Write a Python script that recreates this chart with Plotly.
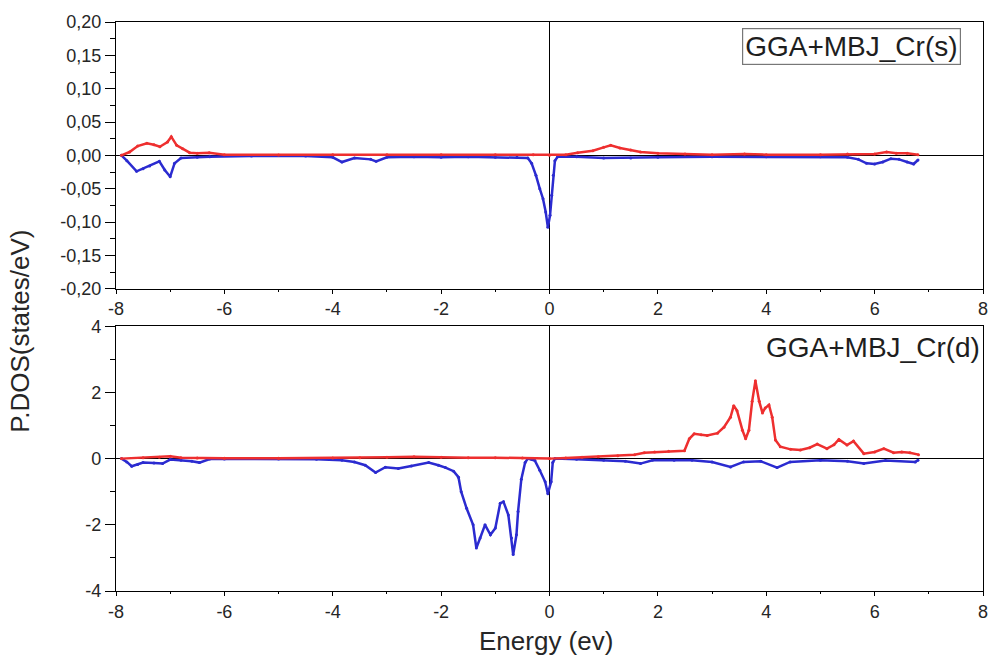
import plotly.graph_objects as go
from plotly.subplots import make_subplots

# ---------------- data ----------------
# Top panel: Cr(s)
s_up_E = [-7.9, -7.75, -7.6, -7.43, -7.3, -7.19, -7.05, -6.98, -6.88, -6.77, -6.64, -6.5, -6.28, -6.0,
          -5.0, -4.0, -3.0, -2.0, -1.0, -0.3, 0.0, 0.3, 0.52, 0.8, 1.0, 1.13, 1.3, 1.5, 1.68, 2.0, 2.5,
          3.0, 3.6, 4.0, 5.0, 5.5, 6.0, 6.22, 6.4, 6.6, 6.8]
s_up_V = [0.0, 0.005, 0.014, 0.018, 0.016, 0.013, 0.02, 0.028, 0.015, 0.01, 0.004, 0.003, 0.004, 0.001,
          0.0005, 0.001, 0.001, 0.001, 0.001, 0.001, 0.0, 0.001, 0.004, 0.007, 0.012, 0.015, 0.011, 0.008,
          0.005, 0.003, 0.002, 0.001, 0.002, 0.001, 0.001, 0.002, 0.002, 0.005, 0.003, 0.003, 0.001]

s_dn_E = [-7.9, -7.8, -7.62, -7.5, -7.38, -7.2, -7.1, -7.0, -6.92, -6.8, -6.5, -6.27, -5.5, -4.5, -4.0,
          -3.83, -3.6, -3.3, -3.2, -3.0, -2.5, -2.0, -1.5, -1.0, -0.6, -0.4, -0.33, -0.25, -0.18, -0.12,
          -0.07, -0.03, 0.01, 0.04, 0.07, 0.1, 0.15, 0.5, 1.0, 1.5, 2.0, 3.0, 4.0, 5.0, 5.5, 5.7, 5.85,
          6.0, 6.15, 6.3, 6.45, 6.6, 6.72, 6.8]
s_dn_V = [0.0, -0.008, -0.024, -0.02, -0.016, -0.009, -0.022, -0.032, -0.012, -0.004, -0.003, -0.002,
          -0.001, -0.001, -0.003, -0.01, -0.004, -0.006, -0.009, -0.003, -0.002, -0.003, -0.002, -0.003,
          -0.003, -0.004, -0.012, -0.03, -0.05, -0.065, -0.085, -0.108, -0.09, -0.06, -0.03, -0.008,
          -0.002, -0.002, -0.004, -0.004, -0.003, -0.002, -0.002, -0.002, -0.003, -0.006, -0.012, -0.013,
          -0.01, -0.005, -0.006, -0.01, -0.013, -0.007]

# Bottom panel: Cr(d)
d_up_E = [-7.9, -7.5, -7.2, -7.0, -6.8, -6.5, -6.0, -5.0, -4.0, -3.5, -3.0, -2.5, -2.0, -1.5, -1.0, -0.5,
          0.0, 0.3, 0.6, 0.9, 1.26, 1.57, 1.75, 1.94, 2.2, 2.49, 2.58, 2.67, 2.8, 2.91, 3.1, 3.22, 3.34,
          3.4, 3.46, 3.56, 3.62, 3.68, 3.74, 3.8, 3.87, 3.93, 3.98, 4.05, 4.11, 4.17, 4.26, 4.45, 4.63,
          4.8, 4.94, 5.12, 5.25, 5.34, 5.49, 5.61, 5.8, 6.0, 6.17, 6.35, 6.5, 6.65, 6.81]
d_up_V = [0.0, 0.03, 0.04, 0.07, 0.03, 0.02, 0.01, 0.01, 0.02, 0.03, 0.04, 0.06, 0.04, 0.03, 0.03, 0.02,
          0.0, 0.02, 0.04, 0.06, 0.09, 0.12, 0.18, 0.2, 0.22, 0.24, 0.6, 0.75, 0.72, 0.7, 0.77, 0.95, 1.25,
          1.6, 1.45, 0.86, 0.6, 0.86, 1.73, 2.35, 1.73, 1.38, 1.53, 1.62, 1.25, 0.56, 0.36, 0.28, 0.26,
          0.33, 0.44, 0.3, 0.42, 0.58, 0.41, 0.53, 0.15, 0.2, 0.3, 0.18, 0.2, 0.18, 0.12]

d_dn_E = [-7.9, -7.8, -7.71, -7.6, -7.5, -7.3, -7.14, -7.0, -6.8, -6.6, -6.46, -6.27, -6.0, -5.0, -4.3,
          -3.83, -3.6, -3.4, -3.21, -3.03, -2.79, -2.55, -2.23, -2.05, -1.92, -1.77, -1.68, -1.63, -1.53,
          -1.41, -1.35, -1.28, -1.19, -1.09, -1.0, -0.91, -0.85, -0.76, -0.7, -0.67, -0.61, -0.58, -0.52,
          -0.45, -0.4, -0.33, -0.27, -0.18, -0.08, -0.03, 0.03, 0.06, 0.1, 0.5, 1.0, 1.4, 1.68, 1.9, 2.3,
          2.63, 3.0, 3.34, 3.58, 3.9, 4.2, 4.44, 5.0, 5.5, 5.8, 6.2, 6.75, 6.8]
d_dn_V = [0.0, -0.1, -0.23, -0.18, -0.12, -0.13, -0.15, -0.03, -0.05, -0.08, -0.12, -0.01, -0.01, -0.01,
          -0.02, -0.05, -0.1, -0.2, -0.42, -0.26, -0.3, -0.22, -0.12, -0.2, -0.27, -0.38, -0.56, -1.0,
          -1.5, -2.0, -2.7, -2.4, -2.0, -2.3, -2.1, -1.35, -1.3, -1.7, -2.4, -2.9, -2.3, -1.6, -0.62,
          -0.12, 0.0, -0.02, -0.06, -0.35, -0.7, -1.06, -0.7, -0.12, 0.0, -0.02, -0.05, -0.08, -0.15,
          -0.05, -0.05, -0.05, -0.1, -0.25, -0.1, -0.08, -0.27, -0.1, -0.05, -0.08, -0.15, -0.06, -0.1,
          -0.05]

x_tickvals = [-8, -6, -4, -2, 0, 2, 4, 6, 8]
x_ticktext = ["-8", "-6", "-4", "-2", "0", "2", "4", "6", "8"]
ys_tickvals = [-0.20, -0.15, -0.10, -0.05, 0.0, 0.05, 0.10, 0.15, 0.20]
ys_ticktext = ["-0,20", "-0,15", "-0,10", "-0,05", "0,00", "0,05", "0,10", "0,15", "0,20"]
yd_tickvals = [-4, -2, 0, 2, 4]
yd_ticktext = ["-4", "-2", "0", "2", "4"]

label_s = "GGA+MBJ_Cr(s)"
label_d = "GGA+MBJ_Cr(d)"

# ---------------- figure ----------------
RED = "#ee2f2f"
BLUE = "#2b2bd0"
FONT = "Liberation Sans, Arial, sans-serif"
TXT = "#262626"

fig = make_subplots(rows=2, cols=1)

def add(E, V, color, row):
    fig.add_trace(go.Scatter(x=E, y=V, mode="lines+markers",
                             line=dict(color=color, width=2.5),
                             marker=dict(color=color, size=3),
                             showlegend=False, hoverinfo="skip"), row=row, col=1)

add(s_dn_E, s_dn_V, BLUE, 1)
add(s_up_E, s_up_V, RED, 1)
add(d_dn_E, d_dn_V, BLUE, 2)
add(d_up_E, d_up_V, RED, 2)

axis_common = dict(showline=True, linecolor="black", linewidth=1.3, mirror=True,
                   ticks="outside", tickcolor="black", tickwidth=1.2,
                   showgrid=False, zeroline=True, zerolinecolor="black", zerolinewidth=1.3,
                   tickfont=dict(family=FONT, size=18, color=TXT))

fig.update_xaxes(**axis_common, ticklen=4, range=[-8, 8], tickmode="array",
                 tickvals=x_tickvals, ticktext=x_ticktext,
                 minor=dict(ticks="outside", ticklen=2, tickcolor="black",
                            tickmode="linear", tick0=-8, dtick=1))
fig.update_yaxes(**axis_common, ticklen=10)
fig.update_layout(
    yaxis=dict(domain=[0.53125, 1.0], range=[-0.2, 0.2], tickmode="array",
               tickvals=ys_tickvals, ticktext=ys_ticktext,
               minor=dict(ticks="outside", ticklen=5, tickcolor="black",
                          tickmode="linear", tick0=-0.2, dtick=0.025)),
    yaxis2=dict(domain=[0.0, 0.4653], range=[-4, 4], tickmode="array",
                tickvals=yd_tickvals, ticktext=yd_ticktext,
                minor=dict(ticks="outside", ticklen=5, tickcolor="black",
                           tickmode="linear", tick0=-4, dtick=1)),
)

fig.add_annotation(text=label_s, xref="paper", yref="paper", x=0.848, y=0.9566,
                   xanchor="center", yanchor="middle",
                   showarrow=False, font=dict(family=FONT, size=28, color="#1e1e1e"),
                   bordercolor="#777777", borderwidth=1.2, borderpad=2, bgcolor="white")
fig.add_annotation(text=label_d, xref="paper", yref="paper", x=0.873, y=0.4288,
                   xanchor="center", yanchor="middle",
                   showarrow=False, font=dict(family=FONT, size=28, color="#1e1e1e"))
fig.add_annotation(text="P.DOS(states/eV)", xref="paper", yref="paper", x=-0.11, y=0.4566,
                   xanchor="center", yanchor="middle",
                   textangle=-90, showarrow=False,
                   font=dict(family=FONT, size=26, color=TXT))
fig.add_annotation(text="Energy (ev)", xref="paper", yref="paper", x=0.496, y=-0.0885,
                   xanchor="center", yanchor="middle",
                   showarrow=False, font=dict(family=FONT, size=26, color=TXT))

fig.update_layout(width=1000, height=663, margin=dict(l=116, r=13, t=15, b=72),
                  plot_bgcolor="white", paper_bgcolor="white", hovermode=False)

fig.write_html("out.html")
